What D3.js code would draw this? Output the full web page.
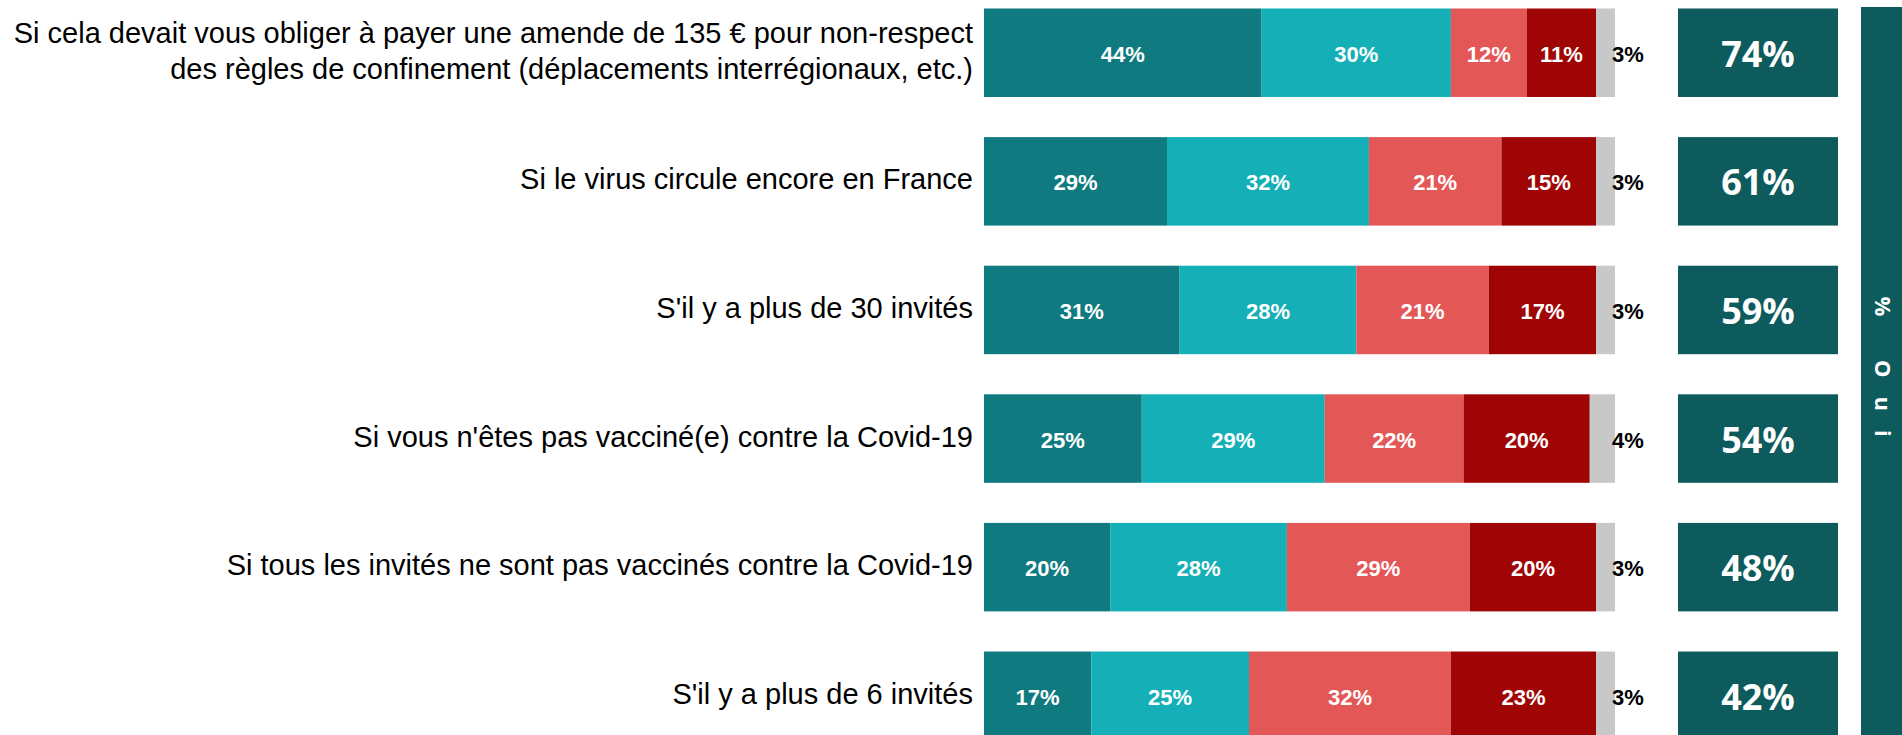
<!DOCTYPE html>
<html><head><meta charset="utf-8">
<script src="https://cdn.jsdelivr.net/npm/d3@7"></script>
<style>html,body{margin:0;padding:0;background:#fff;overflow:hidden}</style>
</head><body><svg id="chart" width="1902" height="735"></svg>
<script>
// ---- data ----
const categories = [
  ["Si cela devait vous obliger à payer une amende de 135 € pour non-respect", "des règles de confinement (déplacements interrégionaux, etc.)"],
  ["Si le virus circule encore en France"],
  ["S'il y a plus de 30 invités"],
  ["Si vous n'êtes pas vacciné(e) contre la Covid-19"],
  ["Si tous les invités ne sont pas vaccinés contre la Covid-19"],
  ["S'il y a plus de 6 invités"]
];
const seriesKeys = ["ouiToutAFait", "ouiPlutot", "nonPlutotPas", "nonPasDuTout", "nsp"];
const ouiToutAFait = [44, 29, 31, 25, 20, 17];
const ouiPlutot    = [30, 32, 28, 29, 28, 25];
const nonPlutotPas = [12, 21, 21, 22, 29, 32];
const nonPasDuTout = [11, 15, 17, 20, 20, 23];
const nsp          = [3, 3, 3, 4, 3, 3];
const ouiTotal     = [74, 61, 59, 54, 48, 42];
const sideTitle = "% Oui";

// ---- styles ----
const colors = {ouiToutAFait: "#0f7a80", ouiPlutot: "#14afb7", nonPlutotPas: "#e45757", nonPasDuTout: "#a00505", nsp: "#c8c8c8"};
const dark = "#0e5b5d";

const table = categories.map((c, i) => ({
  idx: i, ouiToutAFait: ouiToutAFait[i], ouiPlutot: ouiPlutot[i],
  nonPlutotPas: nonPlutotPas[i], nonPasDuTout: nonPasDuTout[i], nsp: nsp[i]
}));

const svg = d3.select("#chart");
const x = d3.scaleLinear().domain([0, 100]).range([984, 1615]);
const y = d3.scaleBand().domain(d3.range(categories.length)).range([8.5, 740]).paddingInner(0.312).paddingOuter(0).align(0);

const stacked = d3.stack().keys(seriesKeys)(table);

const layers = svg.append("g").selectAll("g").data(stacked).join("g")
  .attr("fill", d => colors[d.key]);
layers.selectAll("rect").data(d => d).join("rect")
  .attr("x", d => x(d[0]))
  .attr("width", d => x(d[1]) - x(d[0]))
  .attr("y", d => y(d.data.idx))
  .attr("height", y.bandwidth());

// segment labels
const lab = svg.append("g").attr("font-family", "'Liberation Sans', Arial, sans-serif")
  .attr("font-weight", "bold").attr("font-size", 22);
stacked.forEach(layer => {
  layer.forEach(p => {
    const v = p[1] - p[0];
    const cy = y(p.data.idx) + y.bandwidth() / 2 + 9;
    if (layer.key === "nsp") {
      lab.append("text").attr("x", x(p[1]) - 3).attr("y", cy)
        .attr("fill", "#000").attr("text-anchor", "start").text(v + "%");
    } else {
      lab.append("text").attr("x", (x(p[0]) + x(p[1])) / 2).attr("y", cy)
        .attr("fill", "#fff").attr("text-anchor", "middle").text(v + "%");
    }
  });
});

// category labels
const cl = svg.append("g").attr("font-family", "'Liberation Sans', Arial, sans-serif")
  .attr("font-size", 29).attr("fill", "#000").attr("text-anchor", "end");
categories.forEach((lines, i) => {
  const cy = y(i) + y.bandwidth() / 2;
  const lh = 36;
  const t = cl.append("text").attr("x", 973);
  lines.forEach((ln, j) => {
    t.append("tspan").attr("x", 973)
      .attr("y", cy + (j - (lines.length - 1) / 2) * lh + 8).text(ln);
  });
});

// total boxes
const bx = svg.append("g");
ouiTotal.forEach((v, i) => {
  bx.append("rect").attr("x", 1678).attr("width", 160)
    .attr("y", y(i)).attr("height", y.bandwidth()).attr("fill", dark);
  bx.append("text").attr("x", 1758).attr("y", y(i) + y.bandwidth() / 2 + 14)
    .attr("text-anchor", "middle").attr("fill", "#fff")
    .attr("font-family", "'Open Sans', sans-serif").attr("font-weight", "bold")
    .attr("font-size", 36).text(v + "%");
});

// side band
svg.append("rect").attr("x", 1861).attr("y", 7).attr("width", 60).attr("height", 760).attr("fill", dark);
svg.append("text")
  .attr("transform", "translate(1884,376) rotate(90)")
  .attr("text-anchor", "middle").attr("dominant-baseline", "central")
  .attr("fill", "#fff").attr("font-family", "'Open Sans', sans-serif")
  .attr("font-weight", "bold").attr("font-size", 22).attr("letter-spacing", 19)
  .text(sideTitle);
</script>
</body></html>
